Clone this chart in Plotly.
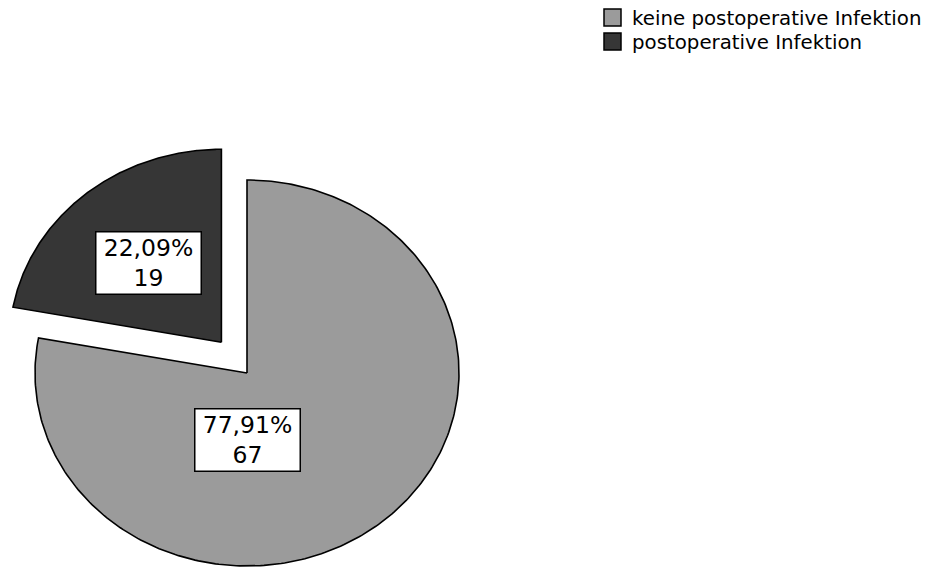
import plotly.graph_objects as go
import numpy as np

# Infection counts
categories = ["keine postoperative Infektion", "postoperative Infektion"]
counts = [67, 19]
colors = ["#9b9b9b", "#363636"]

W, H = 926, 567
CX, CY = 247, 373          # pie centre (px)
RX, RY = 212, 193          # ellipse radii (px)
PULL = 40                  # explode offset for the infection slice (px)
LABEL_R = [0.345, 0.535]   # radial position of the value boxes
FONT = "DejaVu Sans, Verdana, sans-serif"
LABEL_SIZE = 23.5
BOX_W, BOX_H = 102, 59     # inner size of the value boxes (px)

# legend placement (px)
LEG_X, LEG_Y, LEG_BOX, LEG_STEP = 604, 9, 17, 24

total = sum(counts)
fig = go.Figure()

# slice angles, clockwise from 12 o'clock: first slice clockwise, second counter-clockwise
fracs = [c / total for c in counts]
spans = [(0.0, fracs[0] * 360.0), (-fracs[1] * 360.0, 0.0)]
pulls = [0, PULL]

for i, (name, frac) in enumerate(zip(categories, fracs)):
    a0, a1 = spans[i]
    mid = np.radians((a0 + a1) / 2)
    ox = pulls[i] * np.sin(mid)
    oy = -pulls[i] * np.cos(mid)
    t = np.radians(np.linspace(a0, a1, 300))
    xs = np.concatenate([[CX + ox], CX + ox + RX * np.sin(t), [CX + ox]])
    ys = np.concatenate([[CY + oy], CY + oy - RY * np.cos(t), [CY + oy]])
    fig.add_trace(go.Scatter(
        x=xs, y=ys, mode="lines", fill="toself", fillcolor=colors[i],
        line=dict(color="black", width=1.6), showlegend=False, hoverinfo="skip"))

    pct = f"{frac * 100:.2f}".replace(".", ",")
    if i == 0:
        lx, ly = CX, CY + RY * LABEL_R[0]
    else:
        r = LABEL_R[1]
        lx = CX + ox + RX * r * np.sin(mid)
        ly = CY + oy - RY * r * np.cos(mid)
    # white value box with percentage and count
    fig.add_annotation(
        x=lx, y=ly, text=f"{pct}%<br>{counts[i]}", showarrow=False,
        width=BOX_W, height=BOX_H, align="center", valign="middle",
        font=dict(family=FONT, size=LABEL_SIZE, color="black"),
        bgcolor="white", bordercolor="black", borderwidth=1.5, borderpad=1)

    # legend entry: swatch + label
    y0 = LEG_Y + i * LEG_STEP
    fig.add_shape(type="rect", x0=LEG_X, x1=LEG_X + LEG_BOX, y0=y0, y1=y0 + LEG_BOX,
                  fillcolor=colors[i], line=dict(color="black", width=1.5))
    fig.add_annotation(
        x=LEG_X + LEG_BOX + 9, y=y0 + LEG_BOX / 2 + 1, text=name, showarrow=False,
        xanchor="left", yanchor="middle",
        font=dict(family=FONT, size=19.8, color="black"))

fig.update_layout(
    width=W, height=H, margin=dict(l=0, r=0, t=0, b=0),
    paper_bgcolor="white", plot_bgcolor="white", showlegend=False,
    xaxis=dict(range=[0, W], visible=False, fixedrange=True),
    yaxis=dict(range=[H, 0], visible=False, fixedrange=True),
)

fig.write_html("out.html")
